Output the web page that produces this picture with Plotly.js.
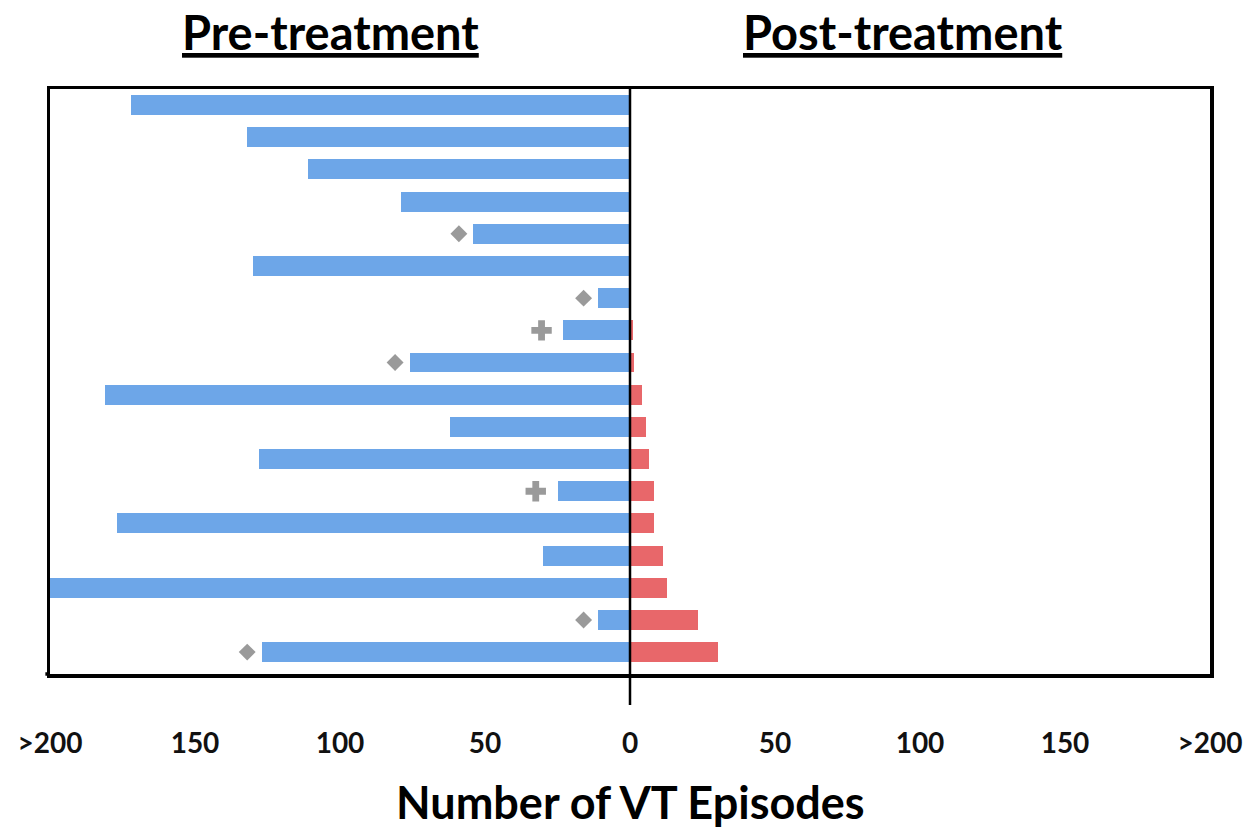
<!DOCTYPE html>
<html>
<head>
<meta charset="utf-8">
<script src="https://cdn.plot.ly/plotly-3.0.1.min.js"></script>
<style>html,body{margin:0;padding:0;background:#fff;}#chart{width:1245px;height:833px;}</style>
</head>
<body>
<div id="chart"></div>
<script>
// Patients, top to bottom
var patients = [1,2,3,4,5,6,7,8,9,10,11,12,13,14,15,16,17,18];
// VT episodes before treatment (200 = ">200")
var preEpisodes = [172,132,111,79,54,130,11,23,76,181,62,128,25,177,30,200,11,127];
// VT episodes after treatment
var postEpisodes = [0,0,0,0,0,0,0,1,1.5,4.3,5.4,6.5,8.4,8.4,11.4,12.6,23.5,30.3];
// Symbol beside the pre-treatment bar ('' = none)
var markerTypes = ['','','','','diamond','','diamond','cross','diamond','','','','cross','','','','diamond','diamond'];
// Axis tick values and labels
var tickVals = [-200,-150,-100,-50,0,50,100,150,200];
var tickLabels = ['>200','150','100','50','0','50','100','150','>200'];

var FONT = 'Lato, "Open Sans", "Liberation Sans", sans-serif';

var preX = preEpisodes.map(function(v){return -v;});

var traces = [
  {type:'bar', orientation:'h', x:preX, y:patients, width:0.62,
   marker:{color:'#6DA6E8', line:{width:0}}, hoverinfo:'skip', showlegend:false},
  {type:'bar', orientation:'h', x:postEpisodes, y:patients, width:0.62,
   marker:{color:'#E8676A', line:{width:0}}, hoverinfo:'skip', showlegend:false}
];

['diamond','cross'].forEach(function(sym){
  var xs=[], ys=[];
  markerTypes.forEach(function(m,i){
    if(m===sym){
      xs.push(-preEpisodes[i] - (sym==='diamond'?5:7.5));
      ys.push(patients[i]);
    }
  });
  traces.push({type:'scatter', mode:'markers', x:xs, y:ys, cliponaxis:false,
    marker:{symbol:sym, color:'#9A9A9A', size: sym==='diamond'?13:17, line:{width:0}},
    hoverinfo:'skip', showlegend:false});
});

var layout = {
  width:1245, height:833,
  margin:{l:50, r:35, t:89, b:159},
  paper_bgcolor:'#fff', plot_bgcolor:'#fff',
  barmode:'overlay',
  bargap:0,
  xaxis:{range:[-200,200], tickvals:tickVals, ticktext:tickLabels,
    showgrid:false, zeroline:false, ticks:'',
    showline:true, mirror:true, linecolor:'#000', linewidth:3.5,
    ticklabelstandoff:42,
    tickfont:{family:FONT, size:28, color:'#111', weight:'bold'},
    fixedrange:true},
  yaxis:{range:[18.68,0.5], showticklabels:false, showgrid:false, zeroline:false, ticks:'',
    showline:true, mirror:true, linecolor:'#000', linewidth:3.5, fixedrange:true},
  shapes:[
    {type:'line', xref:'paper', yref:'paper', x0:-0.004, x1:0, y0:0, y1:0,
     line:{color:'#000', width:3.5}},
    {type:'line', xref:'x', yref:'paper', x0:0, x1:0, y0:-0.053, y1:1,
     line:{color:'#000', width:2.5}, layer:'above'}
  ],
  annotations:[
    {text:'<b><u>Pre-treatment</u></b>', xref:'paper', yref:'paper', x:0.242, y:1, yshift:57,
     xanchor:'center', yanchor:'middle', showarrow:false,
     font:{family:FONT, size:47, color:'#000'}},
    {text:'<b><u>Post-treatment</u></b>', xref:'paper', yref:'paper', x:0.735, y:1, yshift:57,
     xanchor:'center', yanchor:'middle', showarrow:false,
     font:{family:FONT, size:47, color:'#000'}},
    {text:'<b>Number of VT Episodes</b>', xref:'paper', yref:'paper', x:0.5, y:0, yshift:-128,
     xanchor:'center', yanchor:'middle', showarrow:false,
     font:{family:FONT, size:45, color:'#000'}}
  ]
};

Plotly.newPlot('chart', traces, layout, {displayModeBar:false, staticPlot:true});
</script>
</body>
</html>
